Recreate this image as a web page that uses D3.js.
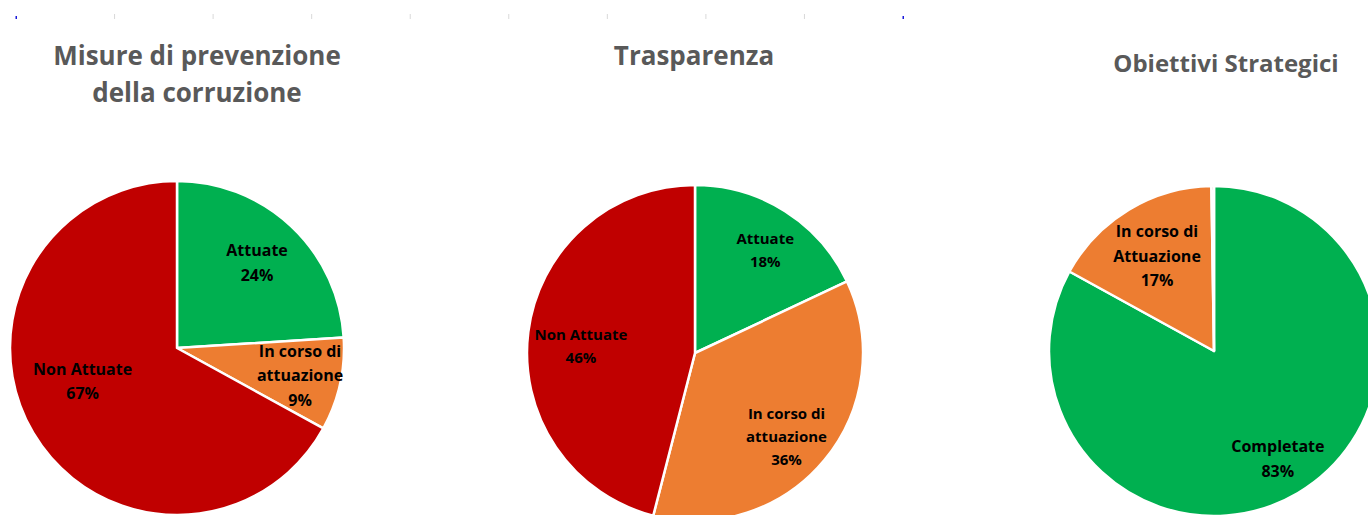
<!DOCTYPE html>
<html>
<head>
<meta charset="utf-8">
<script src="https://cdn.jsdelivr.net/npm/d3@7"></script>
<style>
  body { margin: 0; background: #fff; }
  svg { display: block; }
</style>
</head>
<body>
<div id="chart"></div>
<script>
// data
var chartTitles = [
  ["Misure di prevenzione", "della corruzione"],
  ["Trasparenza"],
  ["Obiettivi Strategici"]
];
var categories1 = ["Attuate", "In corso di attuazione", "Non Attuate"];
var values1 = [24, 9, 67];
var labels1 = [["Attuate", "24%"], ["In corso di", "attuazione", "9%"], ["Non Attuate", "67%"]];

var categories2 = ["Attuate", "In corso di attuazione", "Non Attuate"];
var values2 = [18, 36, 46];
var labels2 = [["Attuate", "18%"], ["In corso di", "attuazione", "36%"], ["Non Attuate", "46%"]];

var categories3 = ["Completate", "In corso di Attuazione", "Non Attuate"];
var values3 = [83, 16.75, 0.25];
var labels3 = [["Completate", "83%"], ["In corso di", "Attuazione", "17%"], []];

var colorMap = {
  "Attuate": "#00B050",
  "Completate": "#00B050",
  "In corso di attuazione": "#ED7D31",
  "In corso di Attuazione": "#ED7D31",
  "Non Attuate": "#C00000"
};

var w = 1368;
var h = 515;

// layout of each pie
var pies = [
  { cats: categories1, vals: values1, labels: labels1, cx: 177, cy: 348, r: 167,
    titleX: 197, titleY: 65, titleSize: 26, labelSize: 16, labelK: [0.70, 0.755, 0.60], labelShift: [0, 0, 11] },
  { cats: categories2, vals: values2, labels: labels2, cx: 695, cy: 353, r: 168,
    titleX: 694, titleY: 65, titleSize: 26, labelSize: 15, labelK: [0.74, 0.74, 0.68], labelShift: [2, 3, -4] },
  { cats: categories3, vals: values3, labels: labels3, cx: 1214, cy: 351, r: 165,
    titleX: 1226, titleY: 72, titleSize: 24, labelSize: 16, labelK: [0.76, 0.67, 0], labelShift: [0, 0, 0] }
];

var svg = d3.select("#chart").append("svg").attr("width", w).attr("height", h);

// cropped axis remnant on top
var tickScale = d3.scaleLinear().domain([0, 9]).range([16, 903]);
var tickData = d3.range(0, 10);
svg.append("g").selectAll("rect")
  .data(tickData)
  .enter()
  .append("rect")
  .attr("x", function (d) { return tickScale(d) - 0.5; })
  .attr("y", function (d) { return (d === 0 || d === 9) ? 16 : 14; })
  .attr("width", function (d) { return (d === 0 || d === 9) ? 1.5 : 1; })
  .attr("height", function (d) { return (d === 0 || d === 9) ? 3 : 5; })
  .attr("fill", function (d) { return (d === 0 || d === 9) ? "#1a1adb" : "#d9d9d9"; });

var pie = d3.pie().sort(null).value(function (d) { return d; });
var font = "'Open Sans', Lato, sans-serif";

pies.forEach(function (p, pi) {
  var g = svg.append("g").attr("transform", "translate(" + p.cx + "," + p.cy + ")");
  var arc = d3.arc().innerRadius(0).outerRadius(p.r);
  var arcs = pie(p.vals);

  g.selectAll("path")
    .data(arcs)
    .enter()
    .append("path")
    .attr("d", arc)
    .attr("fill", function (d, i) { return colorMap[p.cats[i]]; })
    .attr("stroke", "#fff")
    .attr("stroke-width", 2.5)
    .attr("stroke-linejoin", "round");

  // labels
  arcs.forEach(function (a, i) {
    var lines = p.labels[i];
    if (!lines.length) return;
    var ang = (a.startAngle + a.endAngle) / 2 + p.labelShift[i] * Math.PI / 180;
    var rr = p.r * p.labelK[i];
    var x = Math.sin(ang) * rr;
    var y = -Math.cos(ang) * rr;
    var lh = p.labelSize * 1.53;
    var t = g.append("text")
      .attr("text-anchor", "middle")
      .attr("font-family", font)
      .attr("font-weight", "bold")
      .attr("font-size", p.labelSize + "px")
      .attr("fill", "#000");
    lines.forEach(function (s, k) {
      t.append("tspan")
        .attr("x", x)
        .attr("y", y + (k - (lines.length - 1) / 2) * lh)
        .attr("dy", "0.35em")
        .text(s);
    });
  });

  // title
  var tt = svg.append("text")
    .attr("text-anchor", "middle")
    .attr("font-family", font)
    .attr("font-weight", "bold")
    .attr("font-size", p.titleSize + "px")
    .attr("fill", "#595959");
  chartTitles[pi].forEach(function (s, k) {
    tt.append("tspan")
      .attr("x", p.titleX)
      .attr("y", p.titleY + k * 37)
      .text(s);
  });
});
</script>
</body>
</html>
